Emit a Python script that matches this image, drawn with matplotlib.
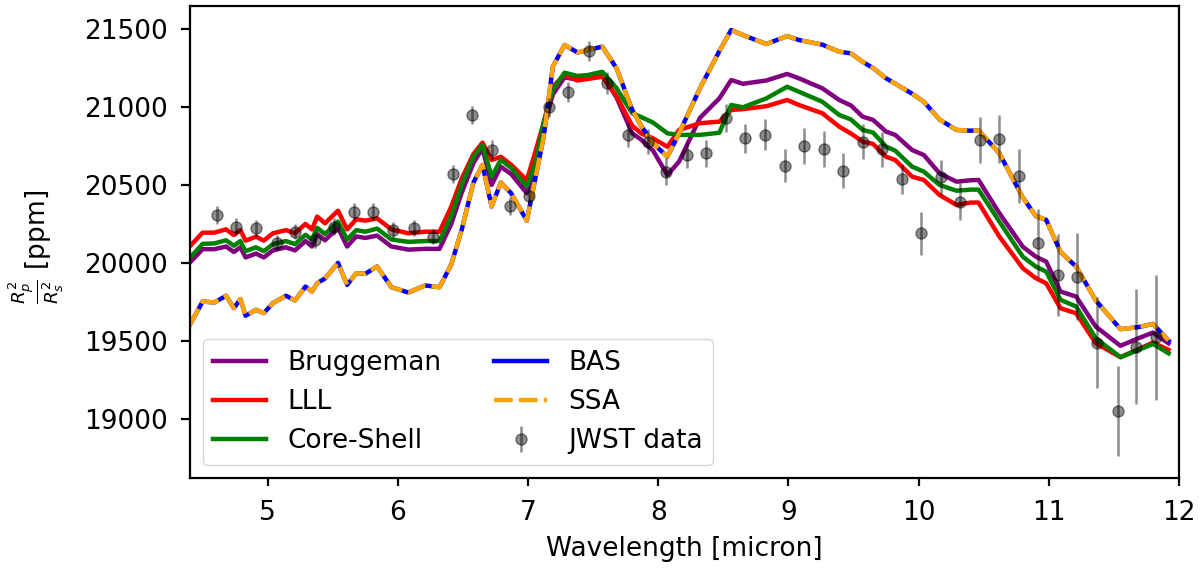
import matplotlib
matplotlib.use("Agg")
import matplotlib.pyplot as plt
import numpy as np

plt.rcParams['font.size'] = 19
plt.rcParams['axes.linewidth'] = 1.6
plt.rcParams['xtick.major.size'] = 6
plt.rcParams['ytick.major.size'] = 6.5
plt.rcParams['xtick.major.width'] = 1.6
plt.rcParams['ytick.major.width'] = 1.6
plt.rcParams['xtick.major.pad'] = 10
plt.rcParams['ytick.major.pad'] = 9

# model wavelength grid [micron]
wl_model = [4.40, 4.50, 4.59, 4.68, 4.74, 4.79, 4.83, 4.91, 4.97, 5.04,
            5.14, 5.21, 5.29, 5.34, 5.38, 5.44, 5.54, 5.61, 5.68, 5.75,
            5.84, 5.95, 6.08, 6.21, 6.32, 6.41, 6.49, 6.58, 6.65, 6.72,
            6.79, 6.87, 6.99, 7.06, 7.12, 7.19, 7.28, 7.38, 7.46, 7.57,
            7.68, 7.80, 7.87, 7.96, 8.07, 8.16, 8.32, 8.47, 8.56, 8.65,
            8.83, 8.99, 9.08, 9.26, 9.39, 9.48, 9.57, 9.65, 9.75, 9.82,
            9.95, 10.04, 10.16, 10.29, 10.40, 10.46, 10.62, 10.80, 10.90, 10.98,
            11.09, 11.21, 11.36, 11.55, 11.69, 11.80, 11.92]

bruggeman = [20000, 20088, 20088, 20105, 20070, 20100, 20035, 20060, 20035, 20080,
             20100, 20080, 20140, 20105, 20185, 20145, 20225, 20105, 20170, 20160,
             20175, 20105, 20085, 20090, 20090, 20250, 20450, 20640, 20735, 20500,
             20617, 20570, 20447, 20620, 20870, 21080, 21190, 21175, 21185, 21205,
             21060, 20831, 20790, 20720, 20564, 20650, 20930, 21056, 21173, 21149,
             21170, 21212, 21184, 21120, 21045, 21010, 20938, 20917, 20842, 20821,
             20724, 20692, 20575, 20521, 20530, 20532, 20319, 20104, 20040, 20008,
             19816, 19784, 19592, 19468, 19517, 19553, 19484]

lll = [20105, 20194, 20194, 20215, 20179, 20210, 20143, 20168, 20143, 20190,
       20210, 20190, 20250, 20215, 20297, 20254, 20335, 20215, 20280, 20271,
       20286, 20215, 20190, 20200, 20200, 20361, 20540, 20698, 20771, 20660,
       20681, 20630, 20530, 20724, 20900, 21131, 21206, 21170, 21180, 21194,
       21070, 20880, 20830, 20799, 20745, 20853, 20896, 20906, 20981, 20986,
       21005, 21045, 21013, 20960, 20874, 20830, 20778, 20763, 20681, 20660,
       20553, 20532, 20436, 20372, 20387, 20387, 20169, 19966, 19902, 19869,
       19709, 19677, 19485, 19395, 19447, 19489, 19442]

core_shell = [20030, 20122, 20125, 20145, 20110, 20140, 20075, 20100, 20075, 20120,
              20140, 20120, 20180, 20150, 20225, 20185, 20265, 20150, 20210, 20200,
              20220, 20150, 20135, 20140, 20140, 20300, 20500, 20680, 20756, 20553,
              20660, 20610, 20489, 20650, 20900, 21110, 21220, 21199, 21205, 21226,
              21120, 20960, 20935, 20900, 20831, 20821, 20821, 20835, 21013, 20998,
              21055, 21130, 21098, 21034, 20949, 20920, 20853, 20836, 20746, 20720,
              20617, 20585, 20500, 20463, 20470, 20470, 20265, 20040, 19976, 19944,
              19763, 19720, 19517, 19395, 19442, 19480, 19420]

# BAS and SSA lie on top of each other
bas = [19600, 19752, 19746, 19789, 19710, 19768, 19661, 19699, 19678, 19742,
       19789, 19760, 19848, 19816, 19870, 19900, 20000, 19859, 19934, 19930,
       19977, 19844, 19810, 19855, 19844, 19990, 20212, 20515, 20628, 20361,
       20515, 20447, 20271, 20560, 20810, 21259, 21398, 21350, 21366, 21387,
       21248, 20981, 20878, 20767, 20681, 20831, 21120, 21360, 21494, 21462,
       21404, 21455, 21430, 21400, 21355, 21344, 21290, 21250, 21184, 21150,
       21085, 21034, 20920, 20853, 20848, 20850, 20703, 20420, 20300, 20276,
       20070, 19976, 19760, 19575, 19588, 19609, 19502]
ssa = list(bas)

# JWST observations
wl_obs = [4.61, 4.76, 4.91, 5.07, 5.21, 5.36, 5.51, 5.66, 5.81, 5.96,
          6.12, 6.27, 6.42, 6.57, 6.72, 6.86, 7.01, 7.16, 7.31, 7.47,
          7.61, 7.77, 7.92, 8.06, 8.22, 8.37, 8.52, 8.67, 8.82, 8.97,
          9.12, 9.27, 9.42, 9.57, 9.72, 9.87, 10.02, 10.17, 10.32, 10.47,
          10.62, 10.77, 10.92, 11.07, 11.22, 11.37, 11.53, 11.67, 11.82]
depth_obs = [20308, 20233, 20222, 20130, 20201, 20147, 20233, 20329, 20329, 20212,
             20222, 20169, 20571, 20949, 20724, 20365, 20429, 20998, 21098, 21360,
             21152, 20821, 20778, 20585, 20692, 20703, 20928, 20799, 20821, 20624,
             20750, 20729, 20592, 20778, 20729, 20538, 20190, 20548, 20393, 20788,
             20795, 20558, 20130, 19923, 19912, 19489, 19051, 19463, 19523]
err_obs = [60, 55, 55, 50, 50, 50, 55, 55, 55, 50,
           50, 50, 60, 60, 65, 55, 55, 60, 65, 65,
           70, 80, 80, 85, 85, 85, 90, 95, 100, 105,
           118, 115, 110, 112, 112, 98, 137, 110, 118, 150,
           155, 173, 218, 262, 280, 294, 288, 368, 400]

fig, ax = plt.subplots(figsize=(12, 5.7), dpi=100)
fig.subplots_adjust(left=0.158, right=0.9825, top=0.9895, bottom=0.1614)

lw = 3.2
ax.plot(wl_model, bruggeman, color='purple', lw=lw, label='Bruggeman')
ax.plot(wl_model, lll, color='red', lw=lw, label='LLL')
ax.plot(wl_model, core_shell, color='green', lw=lw, label='Core-Shell')
ax.plot(wl_model, bas, color='blue', lw=lw, label='BAS')
ax.plot(wl_model, ssa, color='orange', lw=lw, ls='--', dashes=(4.2, 1.4), label='SSA')
ax.errorbar(wl_obs, depth_obs, yerr=err_obs, fmt='o', color='k', alpha=0.45,
            ms=8, elinewidth=1.8, label='JWST data')

ax.set_xlim(4.4, 12)
ax.set_ylim(18620, 21648)
ax.set_yticks([19000, 19500, 20000, 20500, 21000, 21500])
ax.set_xlabel('Wavelength [micron]', labelpad=7)
ax.set_ylabel(r'$\frac{R_p^2}{R_s^2}$ [ppm]')
ax.yaxis.set_label_coords(-0.125, 0.49)
ax.legend(loc='lower left', ncol=2)

fig.savefig('out.png', dpi=100)
